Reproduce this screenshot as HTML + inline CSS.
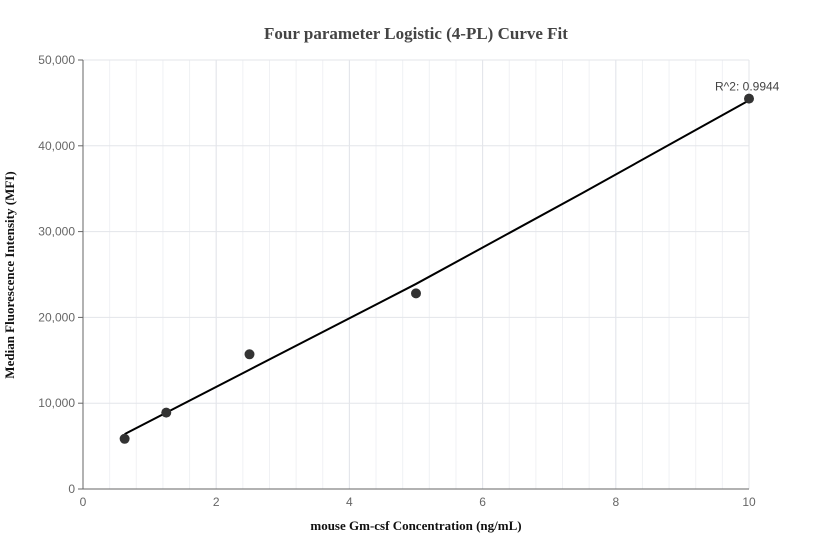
<!DOCTYPE html>
<html><head><meta charset="utf-8"><style>
body{margin:0;background:#fff;}
svg{display:block;font-family:"Liberation Sans",sans-serif;}
</style></head><body>
<svg id="chart" width="832" height="560"></svg>
<script>
const xTicks=[0,2,4,6,8,10];
const yTicks=[0,10000,20000,30000,40000,50000];
const yTickLabels=["0","10,000","20,000","30,000","40,000","50,000"];
const pointX=[0.625,1.25,2.5,5,10];
const pointY=[5850,8900,15700,22800,45500];
const curveX=[0.625,2.5,5,7.5,10];
const curveY=[6400,13900,23900,34500,45300];
const r2Label="R^2: 0.9944";
const L=83,R=749,T=60,B=489;
const sx=v=>L+(v-0)/(10-0)*(R-L);
const sy=v=>B-(v/50000)*(B-T);
const svg=document.getElementById('chart');
const NS='http://www.w3.org/2000/svg';
function mk(tag,attrs,parent){const e=document.createElementNS(NS,tag);for(const k in attrs)e.setAttribute(k,attrs[k]);(parent||svg).appendChild(e);return e;}
// minor vertical grid
for(let v=0.4;v<10;v+=0.4){const g=mk('line',{x1:sx(v),x2:sx(v),y1:T,y2:B,stroke:'#f0f1f4','stroke-width':1});

}
xTicks.forEach(v=>{if(v===0)return;const g=mk('line',{x1:sx(v),x2:sx(v),y1:T,y2:B,stroke:'#e3e5ea','stroke-width':1});

});
yTicks.forEach((v,i)=>{if(v>0){const g=mk('line',{x1:L,x2:R,y1:sy(v),y2:sy(v),stroke:'#e3e5ea','stroke-width':1});

}
const tk=mk('line',{x1:L-5,x2:L,y1:sy(v),y2:sy(v),stroke:'#666'});


const t=mk('text',{x:L-8,y:sy(v)+4,'text-anchor':'end','font-size':12,fill:'#666'});t.textContent=yTickLabels[i];

});
xTicks.forEach(v=>{const t=mk('text',{x:sx(v),y:B+17,'text-anchor':'middle','font-size':12,fill:'#666'});t.textContent=v;

});
const ya=mk('line',{x1:L,x2:L,y1:T,y2:B,stroke:'#666'});


const xa=mk('line',{x1:L,x2:R,y1:B,y2:B,stroke:'#666'});


const curve=mk('polyline',{points:curveX.map((x,i)=>sx(x)+','+sy(curveY[i])).join(' '),fill:'none',stroke:'#000','stroke-width':2});


pointX.forEach((x,i)=>{const c=mk('circle',{cx:sx(x),cy:sy(pointY[i]),r:5,fill:'#333'});

});
const r2=mk('text',{x:sx(10)-34,y:sy(45500)-8,'font-size':12,fill:'#444'});r2.textContent=r2Label;


const title=mk('text',{x:416,y:39,'text-anchor':'middle','font-size':17,'font-weight':'bold',fill:'#444','font-family':'Liberation Serif, serif'});title.textContent='Four parameter Logistic (4-PL) Curve Fit';


const xt=mk('text',{x:416,y:530,'text-anchor':'middle','font-size':13,'font-weight':'bold',fill:'#111','font-family':'Liberation Serif, serif'});xt.textContent='mouse Gm-csf Concentration (ng/mL)';


const ytl=mk('text',{x:0,y:0,'text-anchor':'middle','font-size':13,'font-weight':'bold',fill:'#111','font-family':'Liberation Serif, serif',transform:'translate(14,275) rotate(-90)'});ytl.textContent='Median Fluorescence Intensity (MFI)';


</script>
</body></html>
